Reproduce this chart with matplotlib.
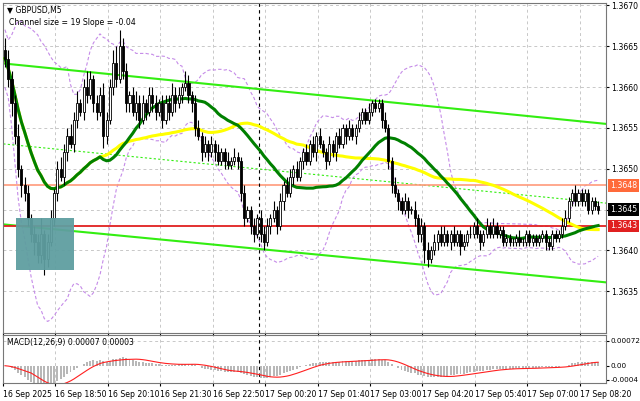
import numpy as np
import pandas as pd
import matplotlib
matplotlib.use("Agg")
import matplotlib.pyplot as plt
from matplotlib.patches import Rectangle

# closes in pips above 1.3600 (M5 candles)
closes = [63.5, 61, 58, 54, 50, 48, 47, 44, 42, 41, 39.5, 42, 39, 41, 44, 47,
          50, 49, 52, 54, 53, 56, 58, 57, 60, 59, 61, 58, 57, 59, 54, 56,
          60, 63, 61, 65, 62, 58, 59, 57, 58, 56, 58, 57, 59, 58, 57, 58,
          56, 58, 57, 59, 58, 59, 60, 60.5, 59, 58, 55, 54, 52, 53, 52, 53,
          52, 51, 52, 51, 50.5, 51, 51.5, 51, 47, 44, 45, 43, 42, 44, 42, 41,
          43, 44, 45, 43, 46, 48, 47, 49, 50, 49, 51, 52, 51, 53, 52, 54,
          53, 52, 51, 53, 52, 54, 53, 55, 54, 55, 54, 55, 56, 57, 56, 57,
          58, 57.5, 58, 56, 55, 51, 48, 47, 46, 45, 46, 45, 45, 44, 42, 43,
          40, 39, 40, 41, 42, 41, 42, 41, 42, 41, 42, 40.5, 41, 42, 42, 43,
          42, 41, 42, 43, 42, 43, 42, 42.5, 41, 41.5, 41, 41, 41.5, 41, 41, 42,
          41, 41.5, 41, 41.5, 42, 41, 40.5, 42, 41.5, 42, 43, 44, 46, 47, 46, 47,
          46, 47, 45, 46, 45.5, 45]
wick_up = [1.5, 1, 1, 1, 1.5, 0.5, 1, 1, 0.5, 1, 1, 2, 0.5, 1, 1, 0.5,
           1, 1.5, 1, 1, 1.5, 1, 1.5, 0.5, 1, 2, 1, 0.5, 1, 1, 1.5, 1,
           1, 1.5, 2, 2, 1, 1, 0.5, 1, 1.5, 1, 1, 0.5, 1, 1, 1, 0.5,
           1, 1, 1, 1.5, 1, 1, 0.5, 1.5, 1, 0.5, 1, 1, 0.5, 1, 0.5, 1,
           0.5, 1, 0.5, 0.5, 1, 0.5, 1, 0.5, 0.5, 1, 0.5, 0.5, 1, 0.5, 1, 1,
           1, 0.5, 1, 0.5, 1, 0.5, 1, 1, 0.5, 1, 0.5, 0.5, 1, 0.5, 1, 0.5,
           1, 0.5, 0.5, 1, 0.5, 0.5, 1, 0.5, 0.5, 1, 0.5, 0.5, 1, 0.5, 0.5, 1,
           0.4, 0.5, 0.5, 0.5, 1, 0.5, 0.5, 1, 0.5, 0.5, 1, 0.5, 0.5, 1, 0.5, 1,
           0.5, 1, 0.5, 1, 0.5, 1, 1, 0.5, 0.5, 1, 0.5, 0.5, 1, 0.5, 1, 0.5,
           1, 0.5, 0.5, 1, 0.5, 1, 0.5, 0.5, 0.5, 0.5, 0.5, 0.5, 0.5, 1, 0.5, 0.5,
           0.5, 0.5, 0.5, 0.5, 0.5, 0.5, 0.5, 0.5, 0.5, 0.5, 1, 1, 0.5, 0.5, 1, 0.5,
           0.5, 0.5, 0.5, 0.5, 0.5, 0.5]
wick_dn = [1, 1, 1.5, 1, 1, 1.5, 1, 1, 1, 1.5, 1, 1, 2, 1, 0.5, 1,
           1, 0.5, 1, 1, 0.5, 1, 1, 0.5, 1, 1, 0.5, 1, 1, 0.5, 1.5, 1,
           0.5, 1, 1, 0.5, 1, 1, 1, 0.5, 1, 1, 0.5, 1, 0.5, 1, 1, 0.5,
           1, 0.5, 1, 0.5, 1, 0.5, 1, 0.5, 1, 1, 1, 0.5, 1, 0.5, 1, 0.5,
           1, 0.5, 0.5, 1, 0.5, 0.5, 0.5, 1, 1, 1, 0.5, 1, 1, 0.5, 1, 1,
           0.5, 1, 0.5, 1, 0.5, 1, 0.5, 0.5, 1, 0.5, 0.5, 1, 0.5, 0.5, 0.5, 1,
           0.5, 0.5, 1, 0.5, 0.5, 1, 0.5, 0.5, 1, 0.5, 0.5, 1, 0.5, 0.5, 0.5, 0.5,
           0.5, 0.5, 0.5, 1, 0.5, 1, 1, 0.5, 1, 0.5, 0.5, 1, 0.5, 1, 1, 1,
           1.5, 1, 0.5, 0.5, 1, 0.5, 0.5, 0.5, 1, 0.5, 0.5, 1, 0.5, 0.5, 0.5, 0.5,
           0.5, 1, 0.5, 0.5, 0.5, 0.5, 0.5, 0.5, 0.5, 0.5, 0.5, 0.5, 0.5, 0.5, 0.5, 0.5,
           0.5, 0.5, 0.5, 0.5, 0.5, 1, 0.5, 0.5, 0.5, 0.5, 0.5, 0.5, 0.5, 0.5, 0.5, 0.5,
           0.5, 0.5, 0.5, 0.5, 0.5, 0.5]

time_labels = ["16 Sep 2025", "16 Sep 18:50", "16 Sep 20:10", "16 Sep 21:30",
               "16 Sep 22:50", "17 Sep 00:20", "17 Sep 01:40", "17 Sep 03:00",
               "17 Sep 04:20", "17 Sep 05:40", "17 Sep 07:00", "17 Sep 08:20"]
price_ticks = [1.3635, 1.3640, 1.3645, 1.3650, 1.3655, 1.3660, 1.3665, 1.3670]
channel_upper = (1.36629, 1.36555)
channel_lower = (1.36432, 1.36361)
level_orange = 1.3648
level_red = 1.3643
last_price = 1.3645
box_price = (1.36376, 1.36440)
box_bars = (3.5, 21.2)
vline_bar = 77.6

c = 1.3600 + np.array(closes) / 10000
o = np.r_[c[0] + 0.0001, c[:-1]]
hi = np.maximum(o, c) + np.array(wick_up) / 10000
lo = np.minimum(o, c) - np.array(wick_dn) / 10000
n = len(c)
idx = np.arange(n)
s = pd.Series(c)

FS = 5.6
fig = plt.figure(figsize=(6.4, 4.01), dpi=100)
W, H = 640, 401
ax = fig.add_axes([3 / W, 1 - 333 / H, 603 / W, 330 / H])
mx = fig.add_axes([3 / W, 1 - 383 / H, 603 / W, 48 / H])
x0, x1 = -0.5, 183.4

grid = dict(color="#c8c8c8", ls=(0, (3, 3)), lw=0.7)
for a in (ax, mx):
    a.set_xlim(x0, x1)
    for sp in a.spines.values():
        sp.set_color("#777777")
        sp.set_linewidth(0.8)
    a.yaxis.tick_right()
    a.tick_params(axis="y", labelsize=FS, length=2, pad=2, colors="black")
    a.set_axisbelow(True)
mx.tick_params(axis="y", pad=1)

ax.set_ylim(1.36299, 1.36703)
ax.set_yticks(price_ticks)
# the current-price box covers the 1.3645 tick label
ax.set_yticklabels(["" if p == last_price else f"{p:.4f}" for p in price_ticks])
tick_pos = [16 * k - 0.6 for k in range(len(time_labels))]
for a in (ax, mx):
    a.set_xticks(tick_pos)
    for t in tick_pos:
        a.axvline(t, **grid, zorder=0)
for p in price_ticks:
    ax.axhline(p, **grid, zorder=0)
ax.set_xticklabels([])
mx.set_xticklabels(time_labels, fontsize=FS, ha="left")
mx.tick_params(axis="x", length=2, pad=3)

# indicators
bb_mid = s.rolling(20, min_periods=1).mean()
bb_sd = s.rolling(20, min_periods=2).std().bfill()
ax.plot(idx, bb_mid + 2 * bb_sd, color="#c58be8", ls=(0, (3, 2)), lw=0.8, zorder=2)
ax.plot(idx, bb_mid - 2 * bb_sd, color="#c58be8", ls=(0, (3, 2)), lw=0.8, zorder=2)
ax.plot(idx, s.rolling(60, min_periods=1).mean(), color="#ffff00", lw=2.2, zorder=3)
ax.plot(idx, s.rolling(30, min_periods=1).mean(), color="#008000", lw=2.2, zorder=4)

# channel
ax.plot([x0, x1], channel_upper, color="#33ee11", lw=1.5, zorder=2)
ax.plot([x0, x1], channel_lower, color="#33ee11", lw=1.5, zorder=2)
ax.plot([x0, x1], [(channel_upper[0] + channel_lower[0]) / 2, (channel_upper[1] + channel_lower[1]) / 2],
        color="#33ee11", lw=0.8, ls=(0, (2, 2)), zorder=2)

ax.axhline(level_orange, color="#ff9a7a", lw=1.2, zorder=2)
ax.axhline(level_red, color="#e02020", lw=1.3, zorder=2)
ax.axvline(vline_bar, color="black", lw=0.8, ls=(0, (3, 3)), zorder=2)
mx.axvline(vline_bar, color="black", lw=0.8, ls=(0, (3, 3)), zorder=2)

# candles
for i in range(n):
    ax.vlines(i, lo[i], hi[i], color="black", lw=0.8, zorder=5)
    bull = c[i] >= o[i]
    bottom = min(o[i], c[i])
    h = max(abs(c[i] - o[i]), 0.000008)
    ax.add_patch(Rectangle((i - 0.32, bottom), 0.64, h, facecolor="white" if bull else "black",
                           edgecolor="black", lw=0.6, zorder=6))

ax.add_patch(Rectangle((box_bars[0], box_price[0]), box_bars[1] - box_bars[0], box_price[1] - box_price[0],
                       facecolor="#5f9ea0", alpha=0.95, zorder=7))

# price labels on axis
for p, fc, tc in [(level_orange, "#ff6a3a", "white"), (last_price, "black", "white"), (level_red, "#e02020", "white")]:
    ax.text(1.006, p, f"{p:.4f}", transform=ax.get_yaxis_transform(), fontsize=FS, color=tc,
            va="center", ha="left", bbox=dict(boxstyle="square,pad=0.25", fc=fc, ec="none"), clip_on=False)

ax.text(0.006, 0.99, "▼ GBPUSD,M5", transform=ax.transAxes, fontsize=FS, va="top")
ax.text(0.01, 0.955, "Channel size = 19 Slope = -0.04", transform=ax.transAxes, fontsize=FS, va="top")

# MACD
ema12 = s.ewm(span=12, adjust=False).mean()
ema26 = s.ewm(span=26, adjust=False).mean()
macd = ema12 - ema26
sig = macd.rolling(9, min_periods=1).mean()
mx.bar(idx, macd, width=0.6, color="#b8b8b8", zorder=2)
mx.plot(idx, sig, color="#ff2020", lw=0.8, zorder=3)
mx.set_ylim(-0.0005, 0.00089)
mx.set_yticks([-0.0004, 0.0, 0.00072])
mx.set_yticklabels(["-0.0004", "0.00", "0.00072"], fontsize=5.2)
mx.axhline(0.00072, **grid, zorder=0)
mx.text(0.006, 0.93, "MACD(12,26,9) 0.00007 0.00003", transform=mx.transAxes, fontsize=FS, va="top")

fig.savefig("out.png", dpi=100)
